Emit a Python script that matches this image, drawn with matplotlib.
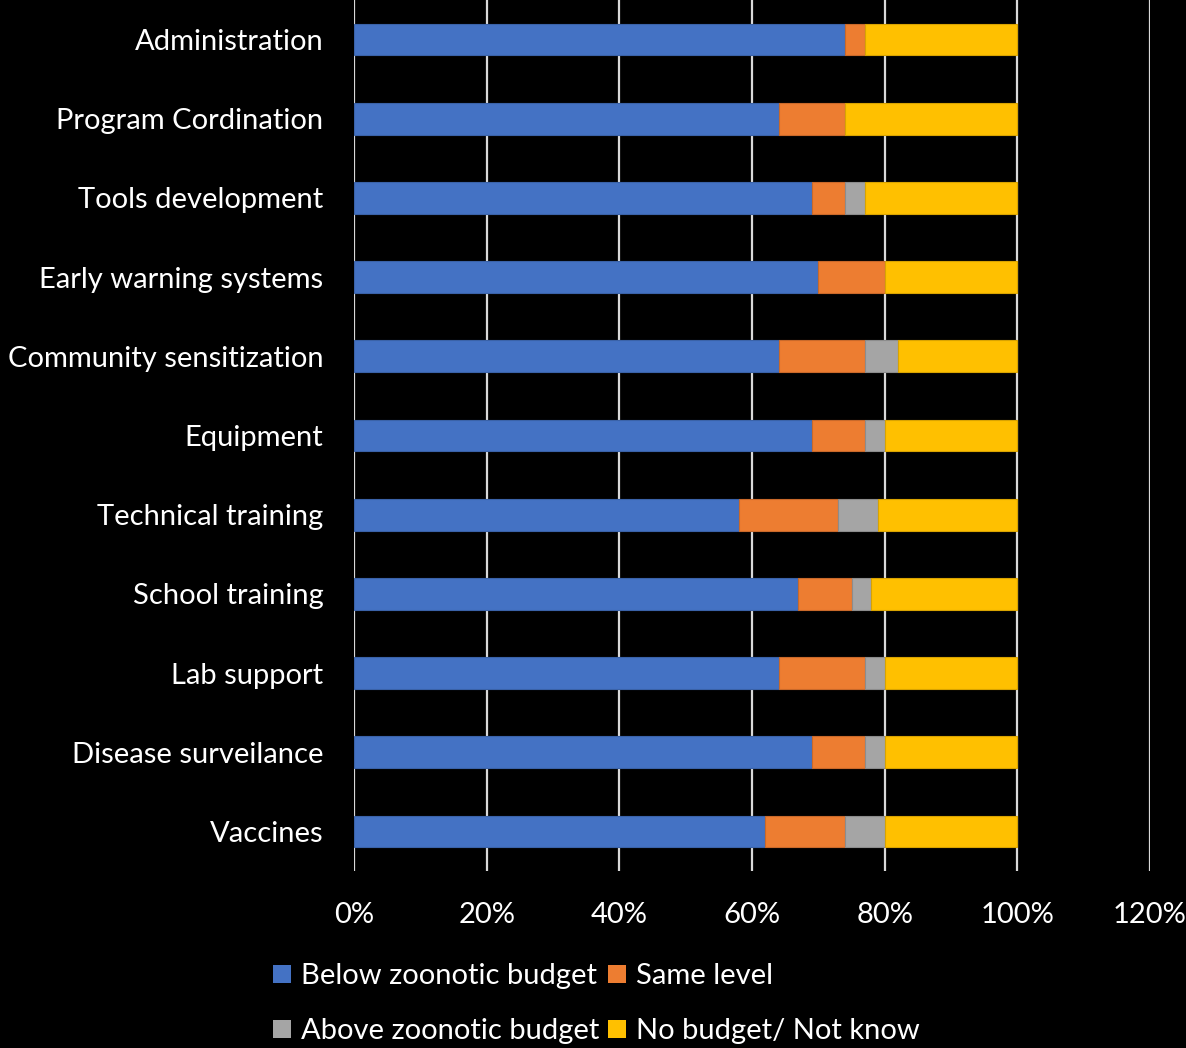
import matplotlib
matplotlib.use("Agg")
import matplotlib.pyplot as plt
from matplotlib.ticker import FuncFormatter
from matplotlib.patches import Patch
import numpy as np

plt.rcParams['font.family'] = ['Lato', 'DejaVu Sans']

categories = ["Administration", "Program Cordination", "Tools development",
              "Early warning systems", "Community sensitization", "Equipment",
              "Technical training", "School training", "Lab support",
              "Disease surveilance", "Vaccines"]
below = [74, 64, 69, 70, 64, 69, 58, 67, 64, 69, 62]
same = [3, 10, 5, 10, 13, 8, 15, 8, 13, 8, 12]
above = [0, 0, 3, 0, 5, 3, 6, 3, 3, 3, 6]
no_budget = [23, 26, 23, 20, 18, 20, 21, 22, 20, 20, 20]
series_names = ["Below zoonotic budget", "Same level",
                "Above zoonotic budget", "No budget/ Not know"]
colors = ["#4472C4", "#ED7D31", "#A5A5A5", "#FFC000"]
edges = ["#3A62A8", "#C9692A", "#8C8C8C", "#D9A300"]

fig = plt.figure(figsize=(11.86, 10.48), dpi=100, facecolor="black")
ax = fig.add_axes([354 / 1186, 1 - 871 / 1048, (1150 - 354) / 1186, 871 / 1048])
ax.set_facecolor("black")

y = np.arange(len(categories))
left = np.zeros(len(categories))
for vals, c, ec in zip([below, same, above, no_budget], colors, edges):
    v = np.array(vals, dtype=float)
    ax.barh(y, v, left=left, height=0.4, color=c, edgecolor=ec, linewidth=0.8, zorder=3)
    left += v

ax.set_xlim(0, 120)
ax.set_ylim(len(categories) - 0.5, -0.5)
ax.set_xticks(np.arange(0, 121, 20))
ax.xaxis.set_major_formatter(FuncFormatter(lambda v, p: f"{int(v)}%"))
ax.set_yticks(y)
ax.set_yticklabels(categories)
ax.grid(axis="x", color="#D9D9D9", linewidth=1.6, zorder=0)
for s in ax.spines.values():
    s.set_visible(False)
ax.tick_params(axis="both", length=0, colors="white", labelsize=21)
ax.tick_params(axis="x", pad=22)
ax.tick_params(axis="y", pad=22)

handles = [Patch(facecolor=c, edgecolor="none") for c in colors]
order = [0, 2, 1, 3]
fig.legend([handles[i] for i in order], [series_names[i] for i in order],
           ncol=2, loc="upper left", bbox_to_anchor=(247 / 1186, 1 - 937 / 1048),
           frameon=False, fontsize=21, labelcolor="white",
           handlelength=0.6, handleheight=0.6, handletextpad=0.35,
           columnspacing=0.3, labelspacing=1.0)

fig.savefig("out.png", dpi=100, facecolor="black")
